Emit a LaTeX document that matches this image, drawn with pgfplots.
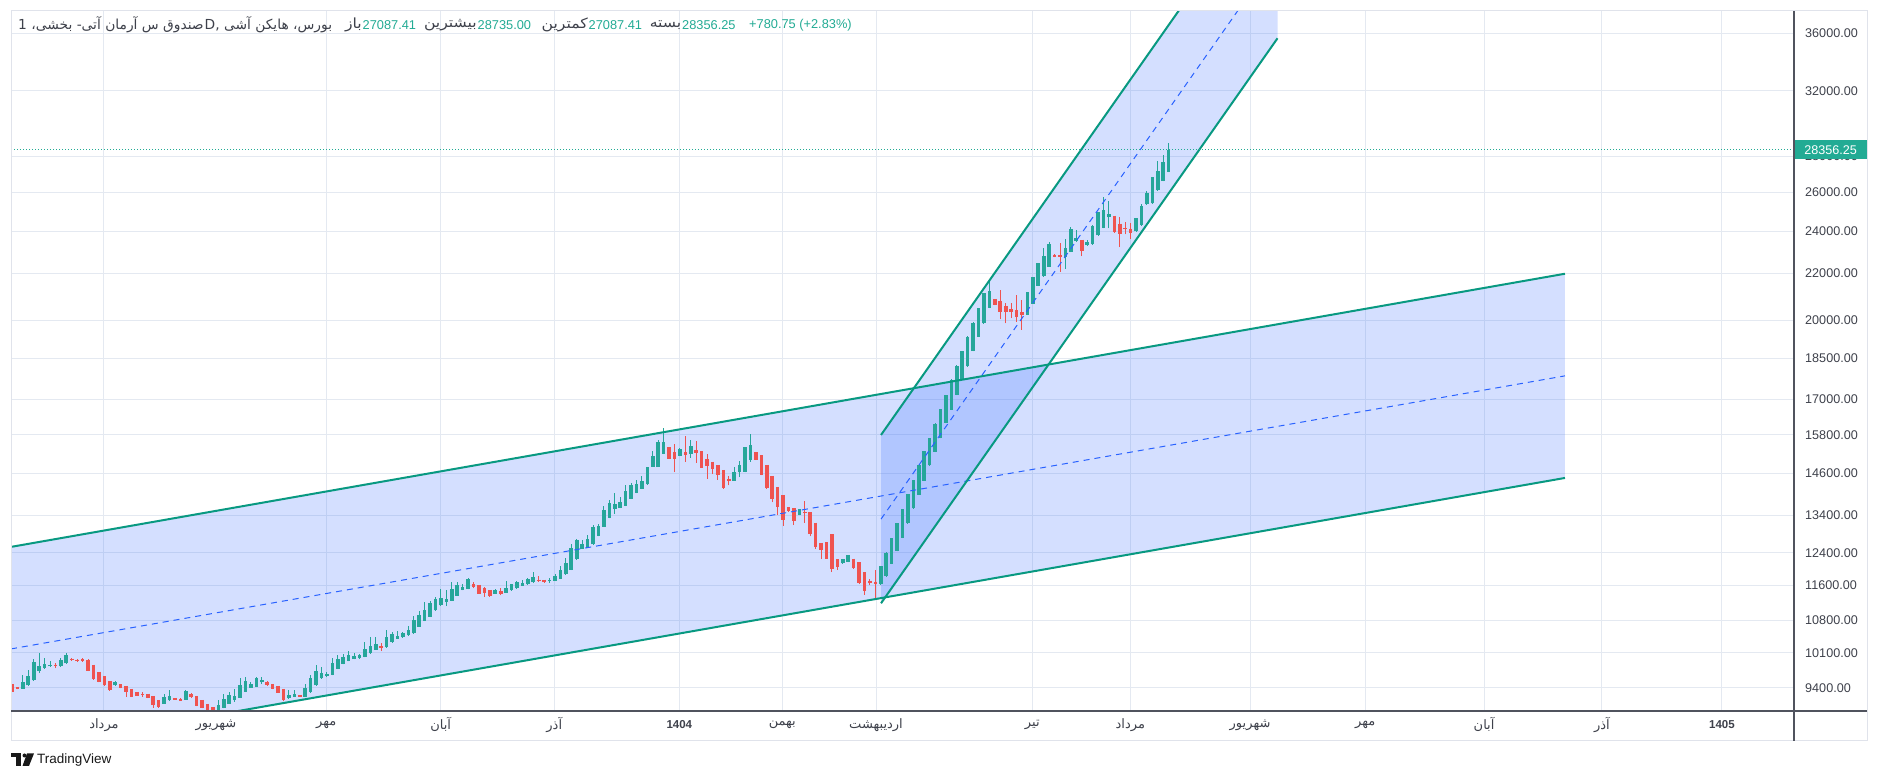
\documentclass[border=0pt]{standalone}
\usepackage{pgfplots}
\pgfplotsset{compat=1.18}
\usepackage{pgfplotstable}
\usepackage{fontspec}
\usepackage{xfp}
\usepackage{graphicx}
\setmainfont{Liberation Sans}
\newfontfamily\fa[Script=Arabic]{DejaVu Sans}
\TeXXeTstate=1
\newcommand\fatxt[1]{{\fa\beginR #1\endR}}
\definecolor{upcol}{HTML}{26A69A}
\definecolor{dncol}{HTML}{EF5350}
\definecolor{chline}{HTML}{089981}
\definecolor{chfill}{HTML}{2962FF}
\definecolor{gridc}{HTML}{E4E9F1}
\definecolor{txt}{HTML}{3E414B}
\definecolor{axc}{HTML}{50535E}
\definecolor{valc}{HTML}{22AB94}
\definecolor{bord}{HTML}{E0E3EB}

\pgfplotstableread{
i o h l c
0 9473 9493 9316 9329
1 9420 9425 9370 9375
2 9388 9660 9381 9521
3 9447 9760 9440 9641
4 9548 9980 9541 9914
5 9727 10094 9687 9841
6 9787 9993 9780 9880
7 9827 9940 9820 9854
8 9860 9900 9787 9834
9 9827 9993 9820 9947
10 9887 10100 9880 10060
11 9980 9985 9940 9947
12 9960 9965 9920 9927
13 9967 9993 9914 9927
14 9960 9974 9727 9740
15 9860 9860 9560 9567
16 9720 9720 9508 9521
17 9627 9630 9440 9447
18 9534 9540 9345 9350
19 9447 9525 9440 9521
20 9467 9470 9390 9394
21 9441 9441 9229 9318
22 9381 9385 9222 9229
23 9324 9330 9250 9254
24 9280 9330 9229 9261
25 9292 9292 9203 9210
26 9248 9248 9026 9076
27 9172 9172 9026 9045
28 9102 9280 9095 9229
29 9165 9362 9159 9248
30 9210 9215 9172 9178
31 9197 9200 9155 9159
32 9178 9362 9178 9343
33 9280 9305 9210 9229
34 9248 9248 9051 9057
35 9172 9172 9013 9026
36 9095 9100 8955 8962
37 9032 9035 8940 8950
38 8950 9172 8945 9076
39 9026 9280 9013 9191
40 9102 9330 9095 9267
41 9165 9375 9140 9248
42 9216 9593 9203 9460
43 9330 9607 9318 9527
44 9407 9514 9400 9480
45 9427 9607 9420 9587
46 9507 9607 9474 9547
47 9521 9525 9440 9447
48 9480 9485 9370 9375
49 9441 9445 9305 9311
50 9381 9381 9146 9165
51 9203 9362 9197 9267
52 9235 9350 9222 9286
53 9267 9270 9230 9235
54 9235 9480 9229 9407
55 9318 9653 9305 9587
56 9447 9860 9440 9740
57 9587 9807 9580 9687
58 9633 9720 9620 9680
59 9654 9993 9647 9900
60 9774 10060 9767 9980
61 9873 10080 9867 10013
62 9933 10149 9927 10053
63 9973 10100 9967 10027
64 9987 10080 9980 10047
65 10013 10338 10007 10191
66 10093 10443 10087 10254
67 10170 10443 10163 10296
68 10240 10310 10135 10212
69 10219 10590 10212 10443
70 10324 10534 10317 10506
71 10401 10569 10394 10464
72 10429 10541 10422 10520
73 10471 10674 10464 10590
74 10513 10904 10506 10800
75 10660 11016 10653 10920
76 10786 11208 10779 11024
77 10880 11224 10872 11184
78 11024 11336 11016 11280
79 11136 11504 11128 11304
80 11216 11480 11120 11280
81 11240 11672 11232 11504
82 11360 11680 11352 11600
83 11488 11624 11480 11568
84 11512 11776 11504 11744
85 11624 11672 11528 11568
86 11616 11620 11400 11408
87 11536 11560 11336 11432
88 11496 11496 11336 11352
89 11408 11520 11400 11480
90 11464 11528 11368 11408
91 11432 11696 11424 11544
92 11480 11640 11472 11624
93 11528 11712 11520 11672
94 11592 11720 11584 11664
95 11624 11784 11616 11744
96 11672 11936 11664 11808
97 11736 11832 11688 11704
98 11736 11740 11668 11672
99 11696 11784 11656 11736
100 11712 11872 11704 11832
101 11760 12080 11752 11976
102 11864 12264 11856 12144
103 11976 12637 11968 12532
104 12240 12768 12232 12733
105 12505 12733 12496 12619
106 12532 12856 12523 12751
107 12619 13128 12610 13066
108 12838 13150 12830 13100
109 13081 13642 13081 13545
110 13320 13826 13311 13729
111 13574 14029 13430 13710
112 13603 13913 13593 13768
113 13662 14242 13652 14087
114 13855 14319 13845 14242
115 14019 14406 14010 14290
116 14145 14513 14135 14387
117 14271 14803 14261 14803
118 14803 15271 14793 15139
119 14803 15647 14793 15576
120 15200 16020 15190 15556
121 15403 15410 15040 15047
122 15251 15495 14630 15047
123 15139 15393 15119 15342
124 15251 15769 14956 15169
125 15200 15647 15078 15434
126 15312 15617 14925 15220
127 15281 15281 14763 14773
128 15037 15190 14435 14834
129 14956 14956 14580 14732
130 14854 14854 14416 14552
131 14702 14705 14145 14155
132 14435 14532 14242 14358
133 14387 14783 14377 14651
134 14630 14966 14484 14854
135 14641 15403 14630 15403
136 15007 15833 14956 15464
137 15251 15255 15000 15007
138 15159 15165 14540 14552
139 14854 14860 14145 14155
140 14523 14523 13758 13855
141 14203 14203 13400 13613
142 13971 13971 13107 13267
143 13613 13632 13487 13516
144 13594 13594 13125 13241
145 13400 13570 13395 13565
146 13487 13807 13196 13449
147 13478 13478 12826 12887
148 13196 13196 12505 12550
149 12666 12666 12240 12471
150 12674 12680 12250 12256
151 12878 12878 11920 12000
152 12240 12240 11984 12056
153 12136 12245 12130 12240
154 12176 12340 12170 12336
155 12256 12256 12008 12032
156 12160 12160 11640 11664
157 11920 11920 11384 11477
158 11712 11760 11600 11648
159 11688 11984 11292 11624
160 11623 12074 11618 12074
161 11828 12416 11810 12400
162 12123 12780 12115 12780
163 12444 13185 12440 13179
164 12789 13570 12780 13564
165 13179 14000 13170 13990
166 13584 14415 13575 14406
167 13971 14850 13960 14844
168 14387 15271 14377 15271
169 14844 15705 14835 15698
170 15261 16180 15251 16170
171 15698 16675 15690 16664
172 16192 17160 16180 17146
173 16641 17705 16630 17695
174 17157 18220 17145 18207
175 17695 18780 17680 18766
176 18183 19350 18170 19336
177 18766 19905 18755 19894
178 19336 20500 19320 20486
179 19867 21140 19855 21128
180 20500 21671 20490 21243
181 20885 20890 20620 20628
182 20800 21286 20029 20342
183 20584 20700 19867 20321
184 20438 20700 20073 20321
185 20394 21066 19934 20131
186 20321 20832 19600 20190
187 20219 21168 20204 21168
188 20686 21845 20672 21839
189 21460 22480 21455 22476
190 21868 23190 21855 22809
191 22317 23476 22301 23381
192 22873 22880 22740 22746
193 22841 23429 22079 22746
194 22746 23635 22222 23206
195 23000 24188 22985 24120
196 23524 24063 23476 23651
197 23587 23587 22794 23032
198 23317 23587 23286 23492
199 23365 24291 23349 24257
200 23794 24940 23778 24940
201 24154 25744 24137 25060
202 24684 25521 24137 24838
203 24769 24769 23921 23937
204 24376 24684 23222 23841
205 24137 24462 23841 24085
206 24120 24410 23603 23905
207 23984 24667 23952 24633
208 24291 25350 24257 25282
209 25350 26069 25333 25949
210 25402 26833 25384 26833
211 26093 27704 26074 27167
212 26593 28038 26574 27630
213 27087.41 28735 27087.41 28356.25
}\candles

\begin{document}
\begin{tikzpicture}[x=1pt,y=1pt]
\useasboundingbox (0,0) rectangle (1879,781);
\fill[white] (0,0) rectangle (1879,781);
\begin{axis}[
  at={(11pt,70pt)}, anchor=south west, scale only axis,
  width=1783pt, height=700pt,
  xmin=-0.184, xmax=328.18,
  ymode=log, ymin=8966, ymax=37709,
  axis line style={draw=none},
  major tick length=0pt,
  tick style={draw=none},
  xmajorgrids, ymajorgrids,
  grid style={gridc, line width=1pt},
  ytick={9400,10100,10800,11600,12400,13400,14600,15800,17000,18500,20000,22000,24000,26000,28000,32000,36000},
  yticklabels={9400.00,10100.00,10800.00,11600.00,12400.00,13400.00,14600.00,15800.00,17000.00,18500.00,20000.00,22000.00,24000.00,26000.00,28000.00,32000.00,36000.00},
  yticklabel pos=right,
  yticklabel style={anchor=west, inner sep=0pt, xshift=11pt, text=txt, font=\fontsize{12.6}{14}\selectfont},
  xtick={16.94,57.88,78.95,99.87,122.89,141.86,159.12,187.90,205.95,228.0,249.2,271.1,292.8,314.9},
  xticklabels={\fatxt{مرداد},\fatxt{مهر},\fatxt{آبان},\fatxt{آذر},{\fontsize{11.5}{13}\selectfont\bfseries 1404},\fatxt{بهمن},\fatxt{اردیبهشت},\fatxt{تیر},\fatxt{مرداد},\fatxt{شهریور},\fatxt{مهر},\fatxt{آبان},\fatxt{آذر},{\fontsize{11.5}{13}\selectfont\bfseries 1405}},
  extra x ticks={37.57},
  extra x tick labels={\fatxt{شهریور}},
  extra x tick style={grid=none},
  xticklabel style={anchor=center, yshift=-14pt, text=txt, font=\fontsize{13}{15}\selectfont},
]
% big channel fill
\addplot[draw=none, fill=chfill, fill opacity=0.2, forget plot] coordinates {(-0.184,8260) (286,14463) (286,21990) (-0.184,12554)} -- cycle;
% steep channel fill
\addplot[draw=none, fill=chfill, fill opacity=0.2, forget plot] coordinates {(160.04,11183) (233.06,35654) (233.06,50364) (160.04,15797)} -- cycle;

% candles
\pgfplotsforeachungrouped \r in {0,...,213}{%
  \pgfplotstablegetelem{\r}{i}\of{\candles}\let\ci\pgfplotsretval
  \pgfplotstablegetelem{\r}{o}\of{\candles}\let\co\pgfplotsretval
  \pgfplotstablegetelem{\r}{h}\of{\candles}\let\ch\pgfplotsretval
  \pgfplotstablegetelem{\r}{l}\of{\candles}\let\cl\pgfplotsretval
  \pgfplotstablegetelem{\r}{c}\of{\candles}\let\cc\pgfplotsretval
  \ifdim\fpeval{\cc-\co}pt<0pt \def\ccol{dncol}\else\def\ccol{upcol}\fi
  \edef\tmp{%
    \noexpand\addplot[draw=\ccol, line width=1pt, forget plot] coordinates {(\ci,\cl) (\ci,\ch)};%
    \noexpand\addplot[draw=\ccol, line width=3.6pt, forget plot] coordinates {(\ci,\co) (\ci,\cc)};%
  }\tmp
}

% big channel lines
\addplot[chline, line width=2pt, forget plot] coordinates {(-0.184,12554) (286,21990)};
\addplot[chline, line width=2pt, forget plot] coordinates {(-0.184,8260) (286,14463)};
\addplot[chfill, line width=1pt, dash pattern=on 6pt off 5pt, forget plot] coordinates {(-0.184,10183) (286,17834)};
% steep channel lines
\addplot[chline, line width=2pt, forget plot] coordinates {(160.04,11183) (233.06,35654)};
\addplot[chline, line width=2pt, forget plot] coordinates {(160.04,15797) (233.06,50364)};
\addplot[chfill, line width=1pt, dash pattern=on 6pt off 5pt, forget plot] coordinates {(160.04,13291) (233.06,42376)};
% last price line
\addplot[valc, line width=1pt, dash pattern=on 1pt off 2pt, forget plot] coordinates {(-0.184,28356.25) (328.18,28356.25)};
\end{axis}

% frame
\draw[bord, line width=1pt] (11,40) rectangle (1867,770);
\draw[axc, line width=1.3pt] (11,70) -- (1867,70);
\draw[axc, line width=1.3pt] (1794,40) -- (1794,770);

% last price label
\node[anchor=west, fill=valc, text=white, inner sep=0pt, minimum width=72pt, minimum height=19pt, font=\fontsize{12.6}{14}\selectfont] at (1794.5,631.1) {28356.25};

% header
\node[anchor=west, inner sep=0pt, text=txt, font=\fa\fontsize{13.8}{16}\selectfont] at (18,756) {\beginR بورس، هایکن آشی D,\kern1pt صندوق س آرمان آتی- بخشی، 1\endR};
\node[anchor=east, inner sep=0pt, text=txt, font=\fa\fontsize{14}{16}\selectfont] at (362,756) {\scalebox{1.12}[1]{\beginR باز\endR}};
\node[anchor=west, inner sep=0pt, text=valc, font=\fontsize{12.8}{14}\selectfont] at (362.5,756) {27087.41};
\node[anchor=east, inner sep=0pt, text=txt, font=\fa\fontsize{14}{16}\selectfont] at (477,756) {\scalebox{1.12}[1]{\beginR بیشترین\endR}};
\node[anchor=west, inner sep=0pt, text=valc, font=\fontsize{12.8}{14}\selectfont] at (477.5,756) {28735.00};
\node[anchor=east, inner sep=0pt, text=txt, font=\fa\fontsize{14}{16}\selectfont] at (588,756) {\scalebox{1.12}[1]{\beginR کمترین\endR}};
\node[anchor=west, inner sep=0pt, text=valc, font=\fontsize{12.8}{14}\selectfont] at (588.5,756) {27087.41};
\node[anchor=east, inner sep=0pt, text=txt, font=\fa\fontsize{14}{16}\selectfont] at (681.5,756) {\scalebox{1.12}[1]{\beginR بسته\endR}};
\node[anchor=west, inner sep=0pt, text=valc, font=\fontsize{12.8}{14}\selectfont] at (682,756) {28356.25};
\node[anchor=west, inner sep=0pt, text=valc, font=\fontsize{12.8}{14}\selectfont] at (749,756) {+780.75 (+2.83\%)};

% TradingView logo
\fill[black!90] (11,27.5) rectangle (21,23.5);
\fill[black!90] (16,23.5) rectangle (21,15);
\fill[black!90] (24.5,25.5) circle (2);
\fill[black!90] (27,27.5) -- (34,27.5) -- (29,15) -- (22.5,15) -- cycle;
\node[anchor=west, inner sep=0pt, text=black!90, font=\fontsize{13.5}{15}\selectfont] at (37,21) {TradingView};
\end{tikzpicture}
\end{document}
